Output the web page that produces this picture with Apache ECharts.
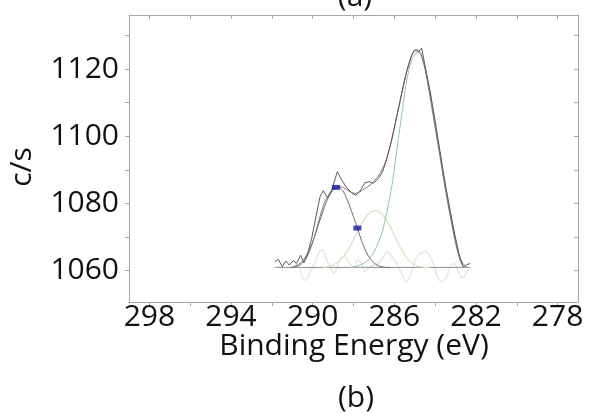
<!DOCTYPE html>
<html>
<head>
<meta charset="utf-8">
<script src="https://cdn.jsdelivr.net/npm/echarts@6/dist/echarts.min.js"></script>
<style>
html,body{margin:0;padding:0;background:#fff;}
#chart{width:596px;height:413px;}
</style>
</head>
<body>
<div id="chart"></div>
<script>
// ---- Data ([binding energy eV, counts/s]) ----
const xTickValues = [278, 280, 282, 284, 286, 288, 290, 292, 294, 296, 298];
const xLabelValues = [278, 282, 286, 290, 294, 298];
const yTickValues = [1060, 1070, 1080, 1090, 1100, 1110, 1120, 1130];
const yLabelValues = [1060, 1080, 1100, 1120];

const rawData = [
  [291.85,1062.7],[291.68,1063.4],[291.49,1061.2],[291.31,1062.9],[291.15,1061.7],
  [290.95,1063.0],[290.79,1062.2],[290.59,1064.6],[290.43,1062.4],[290.26,1064.7],
  [290.05,1069.6],[289.84,1076.1],[289.64,1082.0],[289.48,1083.8],[289.28,1081.8],
  [289.07,1084.0],[288.79,1089.5],[288.58,1087.0],[288.34,1084.8],[288.09,1083.2],
  [287.88,1082.4],[287.65,1084.0],[287.44,1086.2],[287.23,1086.5],[287.03,1086.0],
  [286.78,1087.4],[286.57,1089.5],[286.38,1093.1],[286.13,1098.9],[285.89,1105.8],
  [285.64,1112.8],[285.40,1119.2],[285.15,1124.2],[284.99,1125.7],[284.82,1125.2],
  [284.66,1126.2],[284.50,1121.2],[284.25,1113.3],[284.01,1104.8],[283.76,1095.4],
  [283.52,1086.5],[283.27,1078.1],[283.03,1070.6],[282.82,1064.7],[282.62,1061.2],
  [282.46,1061.7],[282.29,1062.2]
];

const envelopeData = [
  [290.95,1060.9],[290.62,1061.7],[290.38,1063.2],[290.13,1066.2],[289.89,1070.6],
  [289.64,1076.1],[289.40,1080.6],[289.15,1083.0],[288.91,1084.5],[288.66,1085.0],
  [288.42,1084.5],[288.17,1083.5],[287.93,1083.0],[287.68,1083.5],[287.44,1084.5],
  [287.19,1085.5],[286.95,1087.0],[286.70,1089.0],[286.46,1091.9],[286.21,1096.9],
  [285.97,1103.3],[285.72,1110.3],[285.48,1117.2],[285.23,1122.7],[285.04,1125.4],
  [284.87,1125.7],[284.71,1124.7],[284.50,1120.2],[284.25,1111.8],[284.01,1102.9],
  [283.76,1093.9],[283.52,1085.0],[283.27,1076.6],[283.03,1069.1],[282.78,1063.2],
  [282.62,1061.2]
];

const peak1Data = [
  [291.11,1060.9],[290.62,1062.2],[290.30,1064.7],[289.97,1069.1],[289.64,1075.1],
  [289.32,1080.6],[289.07,1083.5],[288.86,1084.8],[288.63,1084.5],[288.37,1082.0],
  [288.09,1077.6],[287.81,1072.7],[287.52,1067.6],[287.19,1063.7],[286.78,1061.5],
  [286.21,1060.9]
];

const peak2Data = [
  [289.48,1060.9],[288.99,1061.7],[288.50,1064.2],[288.09,1068.1],[287.76,1072.1],
  [287.44,1075.6],[287.16,1077.4],[286.90,1077.8],[286.62,1076.9],[286.29,1074.1],
  [285.97,1070.1],[285.64,1066.2],[285.23,1062.7],[284.74,1061.2],[284.25,1060.9]
];

const peak3LeftData = [
  [288.17,1060.9],[287.68,1061.7],[287.27,1063.2],[286.95,1066.2],[286.62,1071.1],
  [286.38,1077.1],[286.13,1085.0],[285.89,1095.4],[285.64,1106.3],[285.40,1116.3],
  [285.15,1122.7],[284.96,1124.7]
];
const peak3RightData = [
  [284.96,1124.7],[284.82,1124.9],[284.66,1123.7],[284.42,1118.2],[284.17,1110.8],
  [283.93,1101.4],[283.68,1091.9],[283.44,1083.0],[283.19,1074.6],[282.95,1067.6],
  [282.70,1062.7],[282.46,1061.2]
];

const baselineData = [[291.85,1061.0],[282.29,1061.0]];

const residualData = [
  [290.62,1060.7],[290.49,1057.7],[290.33,1057.2],[290.13,1059.7],[289.89,1062.2],
  [289.67,1065.7],[289.51,1066.2],[289.35,1063.7],[289.15,1061.2],[288.96,1059.2],
  [288.79,1061.2],[288.63,1063.7],[288.42,1064.2],[288.20,1062.2],[287.98,1061.2],
  [287.81,1063.2],[287.60,1062.2],[287.44,1059.7],[287.22,1061.2],[287.03,1061.7],
  [286.78,1062.2],[286.54,1064.2],[286.34,1065.7],[286.13,1064.2],[285.89,1062.2],
  [285.64,1059.2],[285.43,1056.7],[285.23,1058.2],[285.04,1062.2],[284.87,1064.2],
  [284.71,1065.2],[284.50,1065.7],[284.29,1064.7],[284.09,1062.2],[283.89,1058.2],
  [283.68,1056.7],[283.44,1058.2],[283.27,1061.2],[283.08,1062.2],[282.86,1059.7],
  [282.65,1057.7],[282.49,1059.2],[282.33,1060.7]
];

const markerData = [[288.86,1084.8],[287.81,1072.7]];

// ---- Chart ----
const FONT = '"Open Sans"';
const axisLineColor = '#a6a6a6';
const chart = echarts.init(document.getElementById('chart'), null, {renderer:'canvas'});

function xAxisDef(pos){
  const bottom = pos === 'bottom';
  return {
    type:'value', position:pos, min:277, max:299, inverse:true,
    axisLine:{show:true, onZero:false, lineStyle:{color:axisLineColor, width:1}},
    axisTick:{show:true, inside:!bottom, length:4, customValues:xTickValues, lineStyle:{color:axisLineColor}},
    axisLabel:{show:bottom, customValues:xLabelValues, fontFamily:FONT, fontSize:30, color:'#111', margin:0},
    splitLine:{show:false}
  };
}
function yAxisDef(pos){
  const left = pos === 'left';
  return {
    type:'value', position:pos, min:1050.7, max:1136.1,
    axisLine:{show:true, onZero:false, lineStyle:{color:axisLineColor, width:1}},
    axisTick:{show:true, inside:!left, length:4, customValues:yTickValues, lineStyle:{color:axisLineColor}},
    axisLabel:{show:left, customValues:yLabelValues, fontFamily:FONT, fontSize:30, color:'#111', margin:10,
      formatter:function(v){return String(v);}},
    splitLine:{show:false}
  };
}

function lineSeries(name, data, color, width, smooth, z){
  return {name, type:'line', data, xAxisIndex:0, yAxisIndex:0, symbol:'none',
    smooth: smooth, z: z, silent:true,
    lineStyle:{color, width}};
}

chart.setOption({
  animation:false,
  backgroundColor:'#fff',
  grid:{left:129, right:18, top:15, bottom:111, containLabel:false},
  xAxis:[xAxisDef('bottom'), xAxisDef('top')],
  yAxis:[yAxisDef('left'), yAxisDef('right')],
  graphic:[
    {type:'text', x:355, y:-3, style:{text:'(a)', fontFamily:FONT, fontSize:30, fill:'#111', align:'center', verticalAlign:'middle'}},
    {type:'text', x:354, y:346, style:{text:'Binding Energy (eV)', fontFamily:FONT, fontSize:30, fill:'#111', align:'center', verticalAlign:'middle'}},
    {type:'text', x:356, y:398, style:{text:'(b)', fontFamily:FONT, fontSize:30, fill:'#111', align:'center', verticalAlign:'middle'}},
    {type:'text', x:22, y:167, rotation:Math.PI/2, style:{text:'c/s', fontFamily:FONT, fontSize:30, fill:'#111', align:'center', verticalAlign:'middle'}}
  ],
  series:[
    lineSeries('residual', residualData, '#e6e6e6', 1.5, 0.3, 1),
    lineSeries('baseline', baselineData, '#8c8c8c', 1, false, 2),
    lineSeries('peak2', peak2Data, '#dcdfc0', 1.2, 0.4, 3),
    lineSeries('peak1', peak1Data, '#6e6e6e', 1, 0.4, 4),
    lineSeries('peak3 left', peak3LeftData, '#8fc79e', 1, 0.4, 4),
    lineSeries('peak3 right', peak3RightData, '#9a9a9a', 1, 0.4, 4),
    lineSeries('envelope', envelopeData, '#8e7373', 1, 0.3, 5),
    lineSeries('raw', rawData, '#5a5a5a', 1, false, 6),
    {name:'markers', type:'scatter', data:markerData, symbol:'rect', symbolSize:[8,5],
     itemStyle:{color:'#1418a8'}, z:8, silent:true}
  ]
});
</script>
</body>
</html>
